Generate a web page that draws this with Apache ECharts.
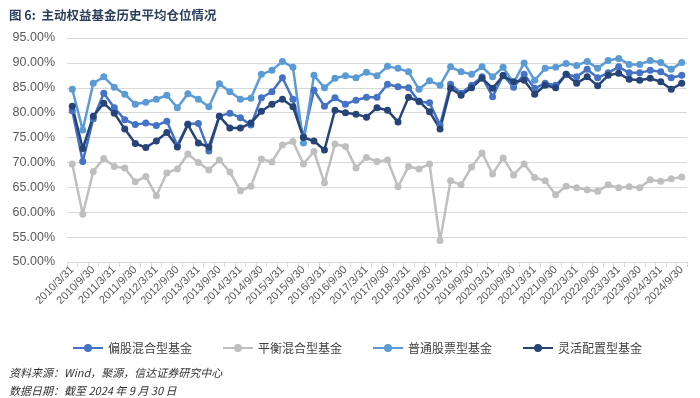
<!DOCTYPE html>
<html>
<head>
<meta charset="utf-8">
<script src="https://cdn.jsdelivr.net/npm/echarts@6/dist/echarts.min.js"></script>
<style>
html,body{margin:0;padding:0;background:#fff;}
#c{width:700px;height:398px;}
</style>
</head>
<body>
<div id="c"></div>
<script>
const categories = [
"2010/3/31","2010/6/30","2010/9/30","2010/12/31",
"2011/3/31","2011/6/30","2011/9/30","2011/12/31",
"2012/3/31","2012/6/30","2012/9/30","2012/12/31",
"2013/3/31","2013/6/30","2013/9/30","2013/12/31",
"2014/3/31","2014/6/30","2014/9/30","2014/12/31",
"2015/3/31","2015/6/30","2015/9/30","2015/12/31",
"2016/3/31","2016/6/30","2016/9/30","2016/12/31",
"2017/3/31","2017/6/30","2017/9/30","2017/12/31",
"2018/3/31","2018/6/30","2018/9/30","2018/12/31",
"2019/3/31","2019/6/30","2019/9/30","2019/12/31",
"2020/3/31","2020/6/30","2020/9/30","2020/12/31",
"2021/3/31","2021/6/30","2021/9/30","2021/12/31",
"2022/3/31","2022/6/30","2022/9/30","2022/12/31",
"2023/3/31","2023/6/30","2023/9/30","2023/12/31",
"2024/3/31","2024/6/30","2024/9/30"
];
const seriesNames = ["偏股混合型基金","平衡混合型基金","普通股票型基金","灵活配置型基金"];

const pianGu = [80.4,70.2,78.8,83.9,81.0,78.6,77.6,77.9,77.4,78.3,73.4,77.7,77.8,72.3,79.3,79.9,79.0,77.5,83.0,84.2,87.0,82.7,75.2,84.5,81.3,83.0,81.7,82.5,83.1,83.1,85.7,85.2,85.0,82.2,82.0,77.5,85.7,83.9,85.5,87.2,83.2,87.5,85.1,87.7,84.9,85.9,85.5,87.7,87.2,88.7,87.0,88.0,89.2,88.0,88.0,88.5,88.2,87.0,87.5];
const pingHeng = [69.7,59.6,68.2,70.8,69.2,68.9,66.1,67.2,63.3,67.9,68.7,71.7,70.0,68.5,70.5,68.1,64.3,65.2,70.7,70.1,73.5,74.2,69.7,72.2,65.9,73.7,73.2,68.9,71.0,70.2,70.5,65.1,69.2,68.7,69.7,54.3,66.3,65.5,69.1,71.9,67.7,70.9,67.5,69.7,67.0,66.3,63.5,65.2,64.9,64.5,64.2,65.5,64.9,65.1,64.9,66.5,66.2,66.7,67.1];
const puTong = [84.7,76.5,85.9,87.2,85.1,83.7,81.7,82.1,82.7,83.5,81.0,83.8,82.7,81.2,85.8,84.2,82.7,82.9,87.7,88.5,90.3,89.1,73.9,87.5,85.0,86.9,87.4,87.0,88.1,87.4,89.3,88.9,88.2,84.7,86.4,85.5,89.2,88.2,87.7,89.2,87.2,89.1,86.0,90.0,86.5,88.9,89.1,89.9,89.5,90.3,88.9,90.5,90.9,89.7,89.7,90.5,90.1,88.7,90.1];
const lingHuo = [81.3,72.8,79.3,81.9,79.9,76.7,73.8,73.0,74.3,76.0,73.1,77.6,73.9,73.1,79.3,76.9,76.9,77.9,80.3,81.7,82.7,81.2,75.0,74.3,72.5,80.5,80.0,79.7,79.1,81.0,80.5,78.1,83.1,82.3,80.2,76.7,84.9,83.5,85.0,86.9,84.9,87.4,86.2,86.5,83.7,85.5,85.0,87.7,85.9,87.2,85.4,87.5,87.9,86.7,86.5,86.9,86.2,84.7,85.9];

const yMin = 50, yMax = 95, yStep = 5;
const colors = ["#4472C4","#BFBFBF","#5B9BD5","#264478"];
const dataSets = [pianGu, pingHeng, puTong, lingHuo];

const chart = echarts.init(document.getElementById('c'), null, {renderer:'canvas'});
const font = "'Liberation Sans', Arial, sans-serif";
const cjk = "'Noto Sans CJK SC', sans-serif";

chart.setOption({
  animation: false,
  backgroundColor: '#fff',
  color: colors,
  title: [
    {text: '图 6:  主动权益基金历史平均仓位情况', left: 4, top: 4,
     textStyle: {fontFamily: cjk, fontSize: 12.5, fontWeight: 'bold', color: '#2B3F5C'}},
    {text: '资料来源：Wind，聚源，信达证券研究中心', left: 4, top: 362,
     textStyle: {fontFamily: cjk, fontSize: 11, fontWeight: 'normal', fontStyle: 'italic', color: '#333'}},
    {text: '数据日期：截至 2024 年 9 月 30 日', left: 4, top: 380,
     textStyle: {fontFamily: cjk, fontSize: 11, fontWeight: 'normal', fontStyle: 'italic', color: '#333'}}
  ],
  legend: {
    data: seriesNames, left: 67, top: 337,
    itemWidth: 30, itemHeight: 10, itemGap: 30,
    textStyle: {fontFamily: cjk, fontSize: 12, color: '#404040'}
  },
  grid: {left: 67, right: 13, top: 38, bottom: 136, containLabel: false},
  xAxis: {
    type: 'category', data: categories, boundaryGap: true,
    axisLine: {lineStyle: {color: '#D9D9D9', width: 1}},
    axisTick: {show: true, interval: 0, length: 5, lineStyle: {color: '#D9D9D9'}},
    axisLabel: {interval: 1, rotate: 45, fontSize: 11, fontFamily: font, color: '#595959', margin: 6},
    splitLine: {show: false}
  },
  yAxis: {
    type: 'value', min: yMin, max: yMax, interval: yStep,
    axisLine: {show: false}, axisTick: {show: false},
    axisLabel: {fontSize: 12.5, fontFamily: font, color: '#595959', margin: 12,
      formatter: v => v.toFixed(2) + '%'},
    splitLine: {lineStyle: {color: '#D9D9D9', width: 1}}
  },
  series: seriesNames.map((n, i) => ({
    name: n, type: 'line', data: dataSets[i],
    symbol: 'circle', symbolSize: 7, showAllSymbol: true,
    lineStyle: {width: 2.5, color: colors[i]},
    itemStyle: {color: colors[i]}
  }))
});
</script>
</body>
</html>
